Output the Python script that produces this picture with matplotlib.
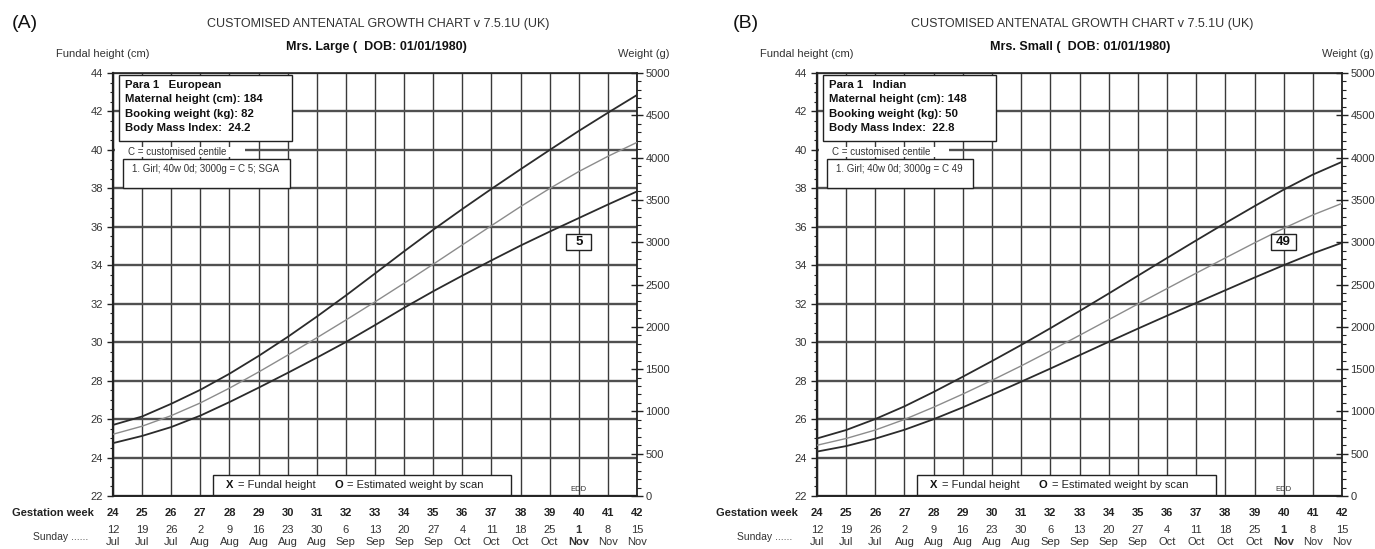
import matplotlib
matplotlib.use("Agg")
import matplotlib.pyplot as plt
import matplotlib.transforms as mtransforms
from matplotlib import font_manager
from matplotlib.patches import Rectangle
from matplotlib.ticker import MultipleLocator, NullFormatter

# ---------------------------------------------------------------- data
weeks = list(range(24, 43))
sunday_day = [12, 19, 26, 2, 9, 16, 23, 30, 6, 13, 20, 27, 4, 11, 18, 25, 1, 8, 15]
sunday_month = ["Jul", "Jul", "Jul", "Aug", "Aug", "Aug", "Aug", "Aug", "Sep",
                "Sep", "Sep", "Sep", "Oct", "Oct", "Oct", "Oct", "Nov", "Nov", "Nov"]
edd_week = 40

# customised weight centiles (g): 90th, 50th, 10th
large_p90 = [840, 940, 1090, 1255, 1445, 1655, 1880, 2120, 2370, 2630,
             2892, 3147, 3392, 3630, 3862, 4090, 4315, 4530, 4740]
large_p50 = [730, 825, 950, 1100, 1275, 1465, 1665, 1870, 2080, 2295,
             2515, 2740, 2968, 3196, 3421, 3635, 3835, 4015, 4180]
large_p10 = [625, 710, 815, 950, 1110, 1280, 1455, 1635, 1820, 2020,
             2225, 2420, 2605, 2785, 2960, 3125, 3285, 3445, 3600]

small_p90 = [680, 780, 910, 1060, 1230, 1410, 1595, 1785, 1983, 2186,
             2393, 2603, 2813, 3021, 3226, 3426, 3621, 3799, 3950]
small_p50 = [600, 680, 780, 905, 1050, 1205, 1368, 1538, 1716, 1899,
             2084, 2269, 2452, 2634, 2814, 2992, 3164, 3322, 3459]
small_p10 = [525, 590, 678, 783, 908, 1048, 1198, 1351, 1506, 1664,
             1822, 1978, 2131, 2282, 2432, 2582, 2728, 2868, 2993]

birth_week = 40
birth_weight = 3000
large_centile = 5
small_centile = 49

large_info = ["Para 1   European", "Maternal height (cm): 184",
              "Booking weight (kg): 82", "Body Mass Index:  24.2"]
small_info = ["Para 1   Indian", "Maternal height (cm): 148",
              "Booking weight (kg): 50", "Body Mass Index:  22.8"]

# ---------------------------------------------------------------- style
installed = {f.name for f in font_manager.fontManager.ttflist}
NARROW = "Liberation Sans Narrow" if "Liberation Sans Narrow" in installed else "Liberation Sans"
plt.rcParams["font.family"] = [NARROW, "Liberation Sans", "DejaVu Sans"]
INK = "#222222"
GRID_V = "#3a3a3a"
GRID_H = "#505050"

W, H = 1375, 549
fig = plt.figure(figsize=(W / 100, H / 100), dpi=100)
fig.patch.set_facecolor("white")


def fx(x):
    return x / W


def fy(y):
    return 1 - y / H


def draw_panel(tag, tag_x, ax_left, ax_right, patient, info, p90, p50, p10,
               centile, sga):
    top, bottom = 73, 496
    ax = fig.add_axes([fx(ax_left), fy(bottom), (ax_right - ax_left) / W,
                       (bottom - top) / H])
    ax.set_xlim(weeks[0], weeks[-1])
    ax.set_ylim(22, 44)
    ax.set_facecolor("white")

    # grid: one vertical line per week, heavier lines every 2 cm
    ax.xaxis.set_major_locator(MultipleLocator(1))
    ax.yaxis.set_major_locator(MultipleLocator(2))
    ax.yaxis.set_minor_locator(MultipleLocator(0.5))
    ax.xaxis.grid(True, color=GRID_V, lw=1.0, zorder=0)
    ax.yaxis.grid(True, which="major", color=GRID_H, lw=1.7, zorder=0)
    ax.set_axisbelow(True)
    ax.tick_params(axis="x", length=0, labelbottom=False)
    ax.tick_params(axis="y", which="major", direction="out", length=4,
                   width=1.0, color=INK, labelsize=8, labelcolor="#333333", pad=3)
    ax.tick_params(axis="y", which="minor", direction="out", length=2,
                   width=0.8, color=INK)
    for side, lw in (("left", 1.6), ("bottom", 1.4), ("top", 1.2), ("right", 1.3)):
        ax.spines[side].set_linewidth(lw)
        ax.spines[side].set_color(INK)

    # weight scale on the right
    ax2 = ax.twinx()
    ax2.set_ylim(0, 5000)
    ax2.yaxis.set_major_locator(MultipleLocator(500))
    ax2.yaxis.set_minor_locator(MultipleLocator(100))
    ax2.tick_params(axis="y", which="major", direction="inout", length=8,
                    width=1.0, color=INK, labelsize=8, labelcolor="#333333", pad=2)
    ax2.tick_params(axis="y", which="minor", direction="out", length=3,
                    width=0.8, color=INK)
    ax2.yaxis.set_minor_formatter(NullFormatter())
    for s in ax2.spines.values():
        s.set_visible(False)

    # centile curves
    ax2.plot(weeks, p90, color="#2b2b2b", lw=1.3, zorder=3)
    ax2.plot(weeks, p50, color="#8c8c8c", lw=1.0, zorder=3)
    ax2.plot(weeks, p10, color="#2b2b2b", lw=1.3, zorder=3)

    # birth weight centile marker
    off = mtransforms.ScaledTranslation(birth_week, birth_weight, ax2.transData)
    ax2.add_patch(Rectangle((-0.125, -0.08), 0.25, 0.16,
                            transform=fig.dpi_scale_trans + off,
                            fc="white", ec=INK, lw=1.0, zorder=5))
    ax2.text(birth_week, birth_weight, str(centile), ha="center", va="center",
             fontsize=9.5, fontweight="bold", color="#111111", zorder=6)

    # maternal details box
    def axfrac_x(px):
        return (px - ax_left) / (ax_right - ax_left)

    def axfrac_y(py):
        return (bottom - py) / (bottom - top)

    bx0, bx1, by0, by1 = ax_left + 6, ax_left + 179, 75, 141
    ax.add_patch(Rectangle((axfrac_x(bx0), axfrac_y(by1)),
                           axfrac_x(bx1) - axfrac_x(bx0),
                           axfrac_y(by0) - axfrac_y(by1),
                           transform=ax.transAxes, fc="white", ec=INK,
                           lw=1.0, zorder=4))
    for i, line in enumerate(info):
        ax.text(axfrac_x(ax_left + 12), axfrac_y(85 + i * 14.4), line,
                transform=ax.transAxes, ha="left", va="center", fontsize=8.2,
                fontweight="bold", color="#111111", zorder=5)

    # centile key
    ax.add_patch(Rectangle((axfrac_x(ax_left + 2), axfrac_y(157)),
                           axfrac_x(ax_left + 132) - axfrac_x(ax_left + 2),
                           axfrac_y(147) - axfrac_y(157),
                           transform=ax.transAxes, fc="white", ec="none",
                           zorder=4))
    ax.text(axfrac_x(ax_left + 15), axfrac_y(152), "C = customised centile",
            transform=ax.transAxes, ha="left", va="center", fontsize=7,
            color="#333333", zorder=5)

    result = f"1. Girl; {birth_week}w 0d; {birth_weight}g = C {centile}"
    if sga:
        result += "; SGA"
    rx1 = ax_left + (177 if sga else 156)
    ax.add_patch(Rectangle((axfrac_x(ax_left + 10), axfrac_y(188)),
                           axfrac_x(rx1) - axfrac_x(ax_left + 10),
                           axfrac_y(159) - axfrac_y(188),
                           transform=ax.transAxes, fc="white", ec=INK,
                           lw=1.0, zorder=4))
    ax.text(axfrac_x(ax_left + 19), axfrac_y(169), result,
            transform=ax.transAxes, ha="left", va="center", fontsize=7,
            color="#333333", zorder=5)

    # symbol key
    ax.add_patch(Rectangle((0.19, 0.003), 0.57, 0.047, transform=ax.transAxes,
                           fc="white", ec=INK, lw=1.0, zorder=4))
    ax.text(0.215, 0.026, "X", transform=ax.transAxes, ha="left", va="center",
            fontsize=8, fontweight="bold", color="#111111", zorder=5)
    ax.text(0.238, 0.026, "= Fundal height", transform=ax.transAxes, ha="left",
            va="center", fontsize=8, color="#222222", zorder=5)
    ax.text(0.422, 0.026, "O", transform=ax.transAxes, ha="left", va="center",
            fontsize=8, fontweight="bold", color="#111111", zorder=5)
    ax.text(0.447, 0.026, "= Estimated weight by scan", transform=ax.transAxes,
            ha="left", va="center", fontsize=8, color="#222222", zorder=5)

    ax.text(edd_week, 0.016, "EDD", transform=ax.get_xaxis_transform(),
            ha="center", va="center", fontsize=5.5, color="#333333", zorder=5)

    # week numbers and Sunday dates under the axis
    xt = ax.get_xaxis_transform()
    for w, d, m in zip(weeks, sunday_day, sunday_month):
        ax.text(w, -17 / (bottom - top), str(w), transform=xt, ha="center",
                va="center", fontsize=8, fontweight="bold", color="#222222",
                clip_on=False)
        bold = "bold" if w == edd_week else "normal"
        ax.text(w, -34 / (bottom - top), str(d), transform=xt, ha="center",
                va="center", fontsize=8, fontweight=bold, color="#333333",
                clip_on=False)
        ax.text(w, -46 / (bottom - top), m, transform=xt, ha="center",
                va="center", fontsize=8, fontweight=bold, color="#333333",
                clip_on=False)

    fig.text(fx(ax_left - 19), fy(513), "Gestation week", ha="right",
             va="center", fontsize=8, fontweight="bold", color="#222222")
    fig.text(fx(ax_left - 25), fy(537), "Sunday ......", ha="right",
             va="center", fontsize=7.5, color="#333333")

    # headings
    fig.text(fx(tag_x), fy(24), tag, ha="left", va="center", fontsize=14,
             color="#111111")
    fig.text(fx(ax_left + 265), fy(24), "CUSTOMISED ANTENATAL GROWTH CHART v 7.5.1U (UK)",
             ha="center", va="center", fontsize=9, color="#333333")
    fig.text(fx(ax_left + 263), fy(47), f"{patient} (  DOB: 01/01/1980)",
             ha="center", va="center", fontsize=9, fontweight="bold",
             color="#111111")
    fig.text(fx(ax_left - 57), fy(54), "Fundal height (cm)", ha="left",
             va="center", fontsize=8, color="#333333")
    fig.text(fx(ax_right + 32), fy(54), "Weight (g)", ha="right",
             va="center", fontsize=8, color="#333333")


draw_panel("(A)", 12, 113, 637, "Mrs. Large", large_info,
           large_p90, large_p50, large_p10, large_centile, True)
draw_panel("(B)", 733, 817, 1342, "Mrs. Small", small_info,
           small_p90, small_p50, small_p10, small_centile, False)

fig.savefig("out.png", dpi=100, facecolor="white")
